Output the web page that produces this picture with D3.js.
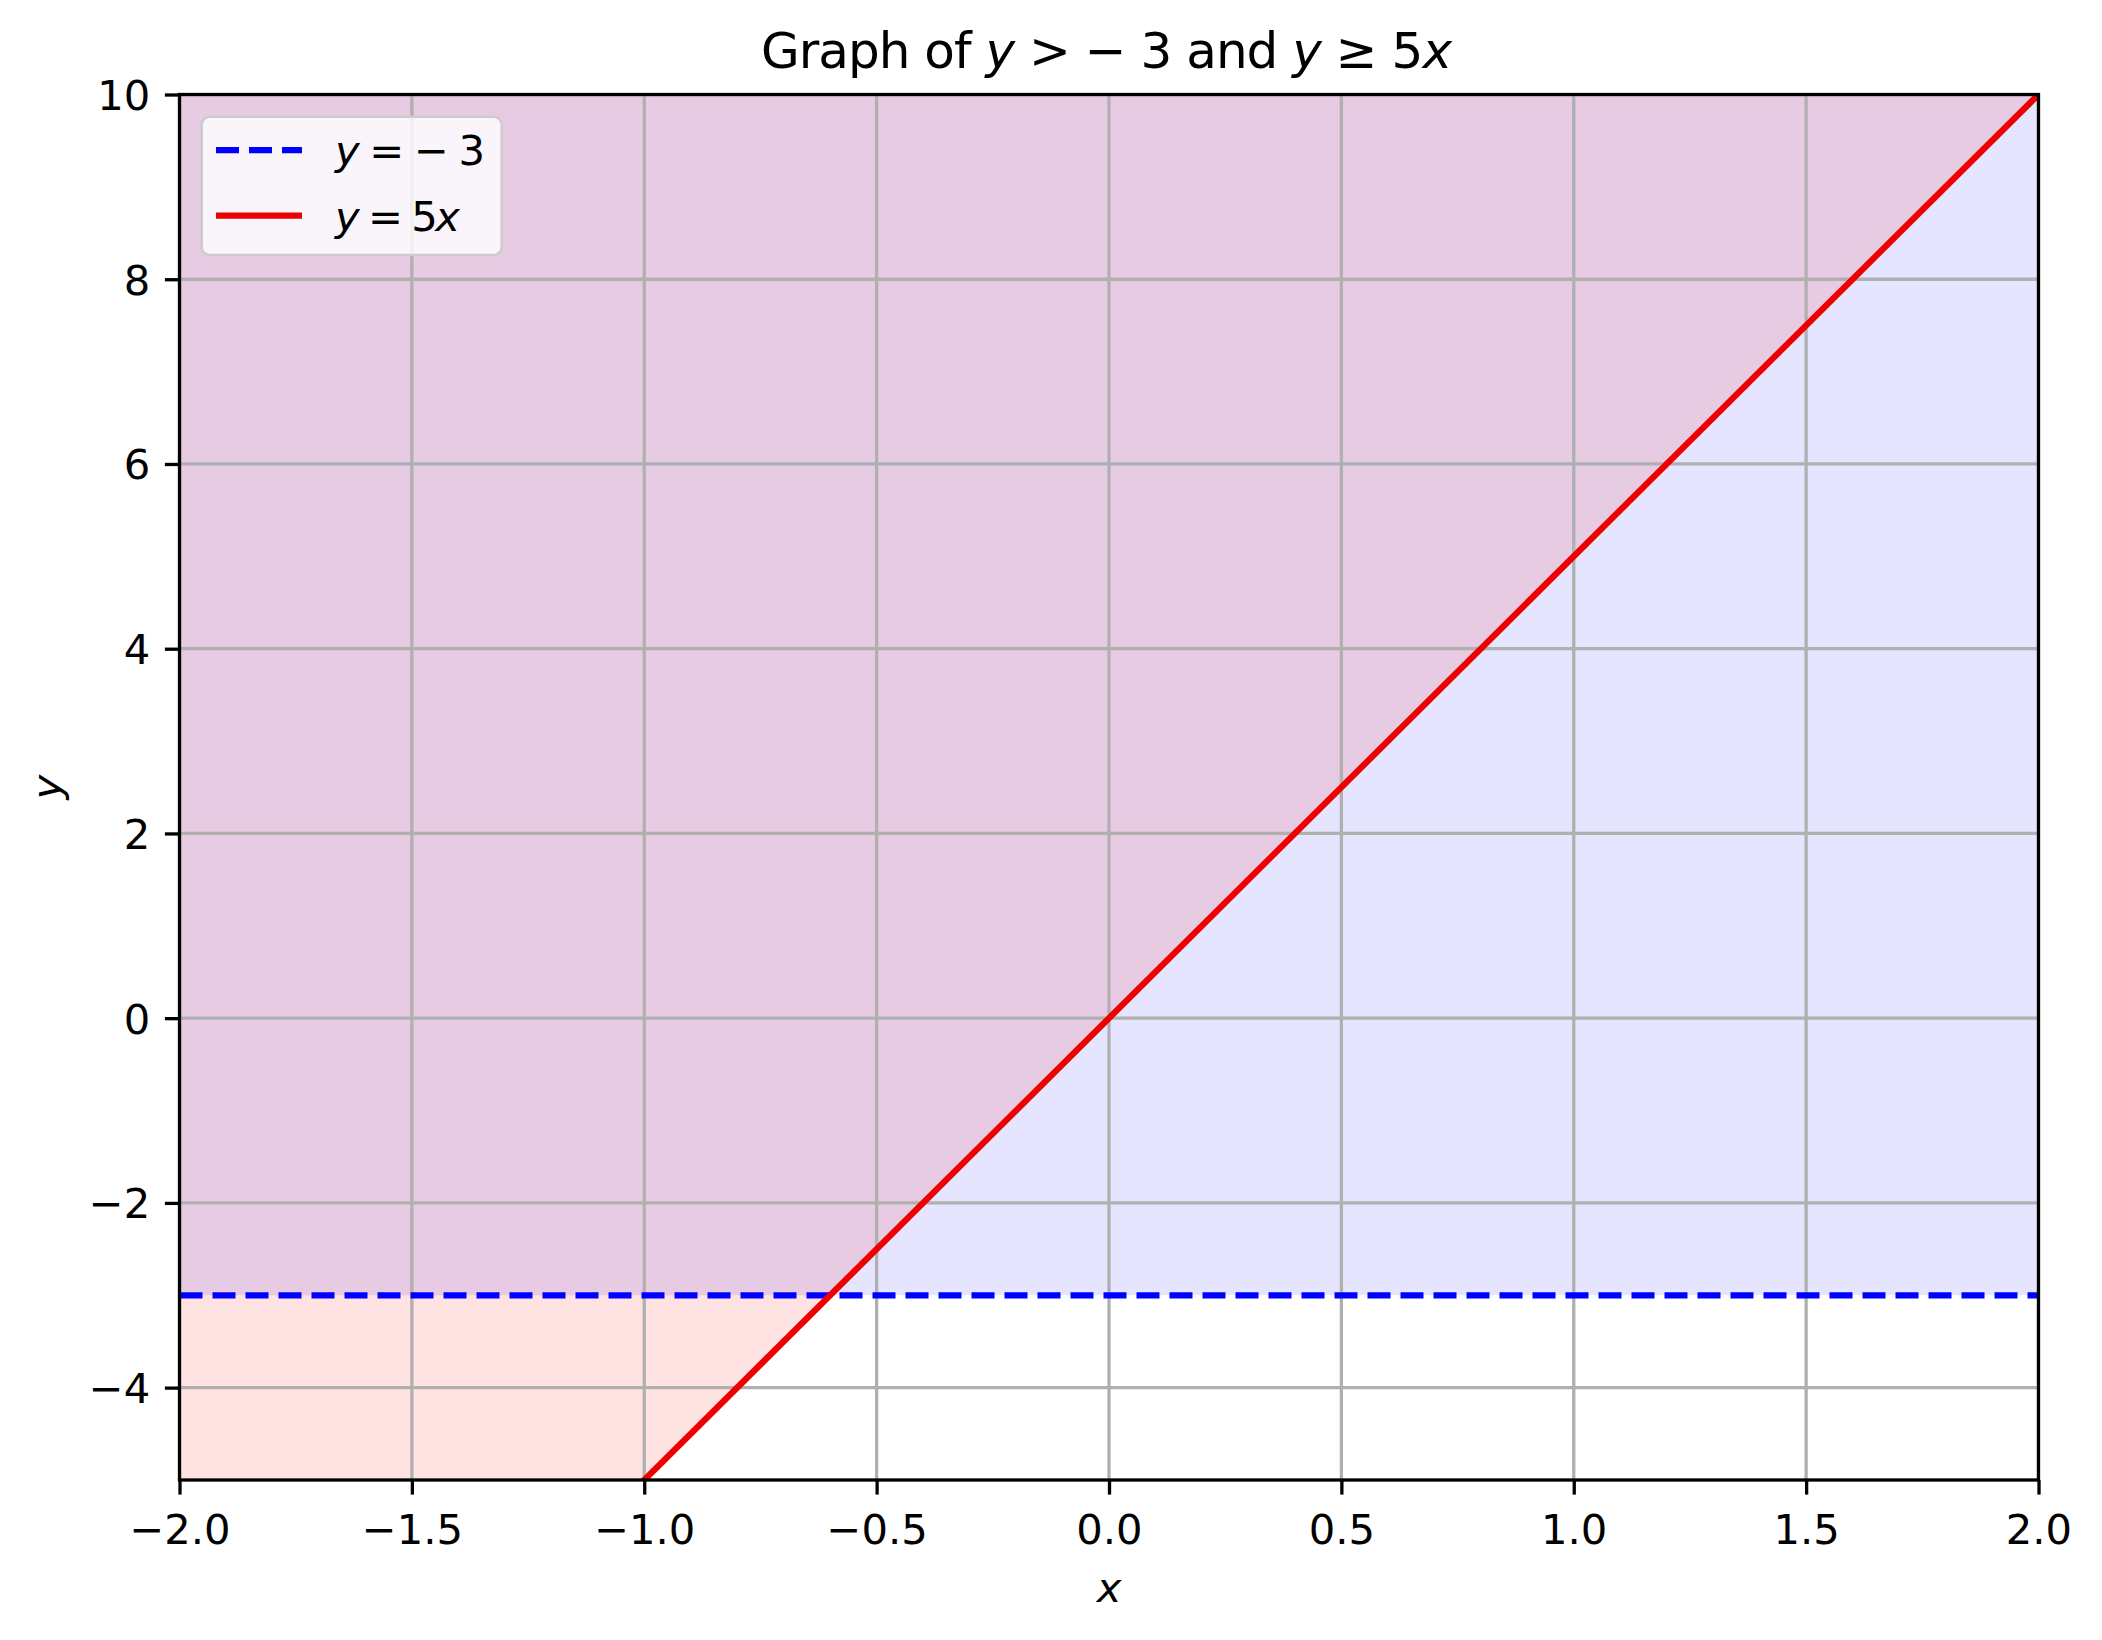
<!DOCTYPE html>
<html>
<head>
<meta charset="utf-8">
<script src="https://cdn.jsdelivr.net/npm/d3@7"></script>
<style>
  html, body { margin: 0; padding: 0; background: #ffffff; }
  svg { display: block; font-family: "DejaVu Sans", sans-serif; }
</style>
</head>
<body>
<svg id="chart" width="2102" height="1640"></svg>
<script>
// ---- data ----
const xDomain = [-2, 2];
const yDomain = [-5, 10];
const xTicks = [-2.0, -1.5, -1.0, -0.5, 0.0, 0.5, 1.0, 1.5, 2.0];
const yTicks = [-4, -2, 0, 2, 4, 6, 8, 10];
// boundary y = -3 (dashed blue)
const hLineX = [-2, 2];
const hLineY = [-3, -3];
// boundary y = 5x (solid red), at the ends of the visible x range
const sLineX = [-2, 2];
const sLineY = [-10, 10];
const fillTop = 10;
const legendLabels = ["y = −3", "y = 5x"];

// ---- layout ----
const m = { left: 179.5, right: 2038.5, top: 94.5, bottom: 1480 };
const svg = d3.select("#chart");

const x = d3.scaleLinear().domain(xDomain).range([m.left, m.right]);
const y = d3.scaleLinear().domain(yDomain).range([m.bottom, m.top]);

const fmtMinus = s => s.replace("-", "\u2212");

svg.append("defs").append("clipPath").attr("id", "plotclip")
  .append("rect").attr("x", m.left).attr("y", m.top)
  .attr("width", m.right - m.left).attr("height", m.bottom - m.top);

const plot = svg.append("g").attr("clip-path", "url(#plotclip)");

// fills
const blueData = hLineX.map((v, i) => ({ x: v, y0: hLineY[i], y1: fillTop }));
const redData = sLineX.map((v, i) => ({ x: v, y0: sLineY[i], y1: fillTop }));
const area = d3.area().x(d => x(d.x)).y0(d => y(d.y0)).y1(d => y(d.y1));
plot.append("path").datum(blueData).attr("d", area)
  .attr("fill", "rgb(0,0,255)").attr("fill-opacity", 0.1);
plot.append("path").datum(redData).attr("d", area)
  .attr("fill", "rgb(255,0,0)").attr("fill-opacity", 0.11);

// grid
const grid = plot.append("g");
xTicks.forEach(t => grid.append("line")
  .attr("x1", x(t)).attr("x2", x(t)).attr("y1", m.top).attr("y2", m.bottom)
  .attr("stroke", "#b0b0b0").attr("stroke-width", 3.3));
yTicks.forEach(t => grid.append("line")
  .attr("y1", y(t)).attr("y2", y(t)).attr("x1", m.left).attr("x2", m.right)
  .attr("stroke", "#b0b0b0").attr("stroke-width", 3.3));

// lines
const line = d3.line().x(d => x(d[0])).y(d => y(d[1]));
plot.append("path").datum(hLineX.map((v, i) => [v, hLineY[i]])).attr("d", line)
  .attr("fill", "none").attr("stroke", "#0000ff").attr("stroke-width", 6.25)
  .attr("stroke-dasharray", "23,10");
plot.append("path").datum(sLineX.map((v, i) => [v, sLineY[i]])).attr("d", line)
  .attr("fill", "none").attr("stroke", "#ee0000").attr("stroke-width", 6.25);

// axes
const xAxis = d3.axisBottom(x).tickValues(xTicks).tickSize(14.6).tickPadding(14.6)
  .tickFormat(d => fmtMinus(d3.format(".1f")(d)));
const yAxis = d3.axisLeft(y).tickValues(yTicks).tickSize(14.6).tickPadding(14.6)
  .tickFormat(d => fmtMinus(d3.format("d")(d)));

const gx = svg.append("g").attr("transform", `translate(0,${m.bottom})`).call(xAxis);
const gy = svg.append("g").attr("transform", `translate(${m.left},0)`).call(yAxis);
[gx, gy].forEach(g => {
  g.select(".domain").remove();
  g.selectAll(".tick line").attr("stroke", "#000").attr("stroke-width", 3.3);
  g.selectAll(".tick text").attr("fill", "#000").attr("font-size", 41.7)
    .attr("font-family", "DejaVu Sans");
});
gx.selectAll(".tick text").attr("dy", null).attr("y", 63.5);
gy.selectAll(".tick text").attr("dy", null).attr("dominant-baseline", null).attr("y", 15);

// spines
svg.append("rect").attr("x", m.left).attr("y", m.top)
  .attr("width", m.right - m.left).attr("height", m.bottom - m.top)
  .attr("fill", "none").attr("stroke", "#000").attr("stroke-width", 3.3);

// axis labels
svg.append("text").attr("x", (m.left + m.right) / 2).attr("y", 1602)
  .attr("text-anchor", "middle").attr("font-size", 41.7).attr("font-style", "italic")
  .text("x");
svg.append("text").attr("transform", `translate(61,${(m.top + m.bottom) / 2}) rotate(-90)`)
  .attr("text-anchor", "middle").attr("font-size", 41.7).attr("font-style", "italic")
  .text("y");

// title
const title = svg.append("text").attr("x", 761).attr("y", 68)
  .attr("font-size", 50).attr("textLength", 691).attr("lengthAdjust", "spacing");
title.append("tspan").text("Graph of ");
title.append("tspan").attr("font-style", "italic").text("y");
title.append("tspan").text(" > \u2212 3 and ");
title.append("tspan").attr("font-style", "italic").text("y");
title.append("tspan").text(" \u2265 5");
title.append("tspan").attr("font-style", "italic").text("x");

// legend
const lg = svg.append("g");
lg.append("rect").attr("x", 201.7).attr("y", 116.7).attr("width", 300).attr("height", 138.3)
  .attr("rx", 8).attr("ry", 8)
  .attr("fill", "#ffffff").attr("fill-opacity", 0.8)
  .attr("stroke", "#cccccc").attr("stroke-width", 2.5);
const legendStyles = [
  { color: "#0000ff", dash: "23,10", len: 150 },
  { color: "#ee0000", dash: null, len: 125 }
];
legendLabels.forEach((lab, i) => {
  const cy = 150 + i * 65.7;
  lg.append("line").attr("x1", 216).attr("x2", 302).attr("y1", cy).attr("y2", cy)
    .attr("stroke", legendStyles[i].color).attr("stroke-width", 6.25)
    .attr("stroke-dasharray", legendStyles[i].dash);
  const t = lg.append("text").attr("x", 335).attr("y", cy + 15).attr("font-size", 41.7)
    .attr("textLength", legendStyles[i].len).attr("lengthAdjust", "spacing");
  const parts = lab.split(/([xy])/).filter(s => s.length);
  parts.forEach(p => {
    const ts = t.append("tspan").text(p === " = −3" ? " = \u2212 3" : p);
    if (p === "x" || p === "y") ts.attr("font-style", "italic");
  });
});
</script>
</body>
</html>
